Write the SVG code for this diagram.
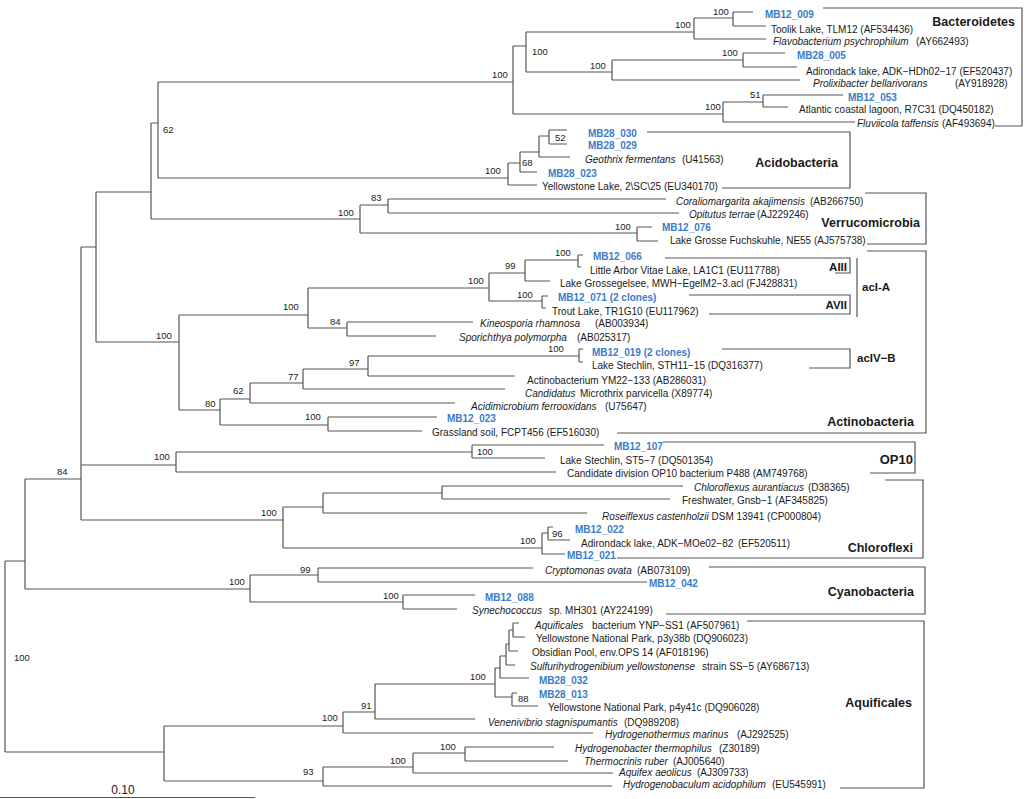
<svg xmlns="http://www.w3.org/2000/svg" width="1028" height="799" viewBox="0 0 1028 799">
<style>
.ln{fill:none;stroke:#555;stroke-width:1.2}
.bk{fill:none;stroke:#555;stroke-width:1.2}
text{font-family:"Liberation Sans",Arial,Helvetica,sans-serif;font-size:10px;fill:#1a1a1a}
.m{font-weight:bold;fill:#3b7cc9}
.i{font-style:italic}
.bs{font-size:9.5px}
.g{font-size:12.5px;font-weight:bold}
.s{font-size:11.5px;font-weight:bold}
.sc{font-size:12px}
</style>
<rect width="1028" height="799" fill="#fff"/>
<g id="connectors">
<path class="ln" d="M5 561V752M5 561H25M5 752H164
M25 479V589M25 479H81M25 589H250
M81 247V520M81 247H96M81 465H176M81 520H283
M96 192V342M96 192H151M96 342H179
M151 123V219M151 123H158M151 219H360
M158 82V178M158 82H513M158 178H508
M513 46V114M513 46H526M513 114H723
M526 32V72M526 32H694M526 72H612
M694 18V39M694 18H733M694 39H766
M733 12V26M733 12H753M733 26H766
M612 60V80M612 60H743M612 80H800
M743 53V67M743 53H785M743 67H797
M723 102V122M723 102H763M723 122H855
M763 95V107M763 95H843M763 107H788
M508 163V185M508 163H520M508 185H537
M520 152V172M520 152H539M520 172H537
M539 136V157M539 136H549M539 157H570
M549 130V144M549 130H567M549 144H567
M360 205V233M360 205H388M360 233H637
M388 199V213M388 199H666M388 213H679
M637 227V241M637 227H652M637 241H658
M179 315V410M179 315H308M179 410H220
M308 288V328M308 288H489M308 328H347
M489 273V301M489 273H525M489 301H542
M525 260V281M525 260H578M525 281H550
M578 255V267M578 255H583M578 267H581
M542 296V308M542 296H548M542 308H546
M347 322V336M347 322H473M347 336H436
M220 399V425M220 399H250M220 425H328
M250 383V403M250 383H303M250 403H455
M303 369V389M303 369H368M303 389H505
M368 356V376M368 356H579M368 376H515
M579 349V362M579 349H583M579 362H583
M328 417V431M328 417H437M328 431H422
M176 452V472M176 452H472M176 472H556
M472 445V458M472 445H604M472 458H545
M283 507V548M283 507H323M283 548H542
M323 493V513M323 493H442M323 513H587
M442 486V499M442 486H683M442 499H670
M542 533V554M542 533H548M542 554H565
M548 527V540M548 527H553M548 540H570
M250 575V602M250 575H318M250 602H403
M318 568V582M318 568H533M318 582H647
M403 595V609M403 595H475M403 609H457
M164 726V781M164 726H343M164 781H323
M343 712V733M343 712H375M343 733H593
M375 684V719M375 684H495M375 719H475
M495 668V697M495 668H500M495 697H512
M500 656V678M500 656H506M500 678H529
M506 644V665M506 644H509M506 665H515
M509 630V651M509 630H513M509 651H518
M513 623V637M513 623H519M513 637H525
M512 693V706M512 693H517M512 706H538
M323 767V786M323 767H413M323 786H612
M413 753V773M413 753H465M413 773H613
M465 747V761M465 747H554M465 761H568"/>
</g>
<g id="support-values">
<text class="bs" x="163" y="133.4">62</text>
<text class="bs" x="492" y="78.4">100</text>
<text class="bs" x="532" y="55.4">100</text>
<text class="bs" x="675" y="28.4">100</text>
<text class="bs" x="713" y="15.4">100</text>
<text class="bs" x="590" y="69.4">100</text>
<text class="bs" x="722" y="56.4">100</text>
<text class="bs" x="750" y="98.4">51</text>
<text class="bs" x="705" y="110.4">100</text>
<text class="bs" x="485" y="174.4">100</text>
<text class="bs" x="522" y="166.4">68</text>
<text class="bs" x="555" y="141.4">52</text>
<text class="bs" x="371" y="201.4">83</text>
<text class="bs" x="338" y="216.4">100</text>
<text class="bs" x="615" y="230.4">100</text>
<text class="bs" x="156" y="339.4">100</text>
<text class="bs" x="283" y="310.4">100</text>
<text class="bs" x="330" y="325.4">84</text>
<text class="bs" x="468" y="284.4">100</text>
<text class="bs" x="505" y="269.4">99</text>
<text class="bs" x="555" y="256.4">100</text>
<text class="bs" x="517" y="298.4">100</text>
<text class="bs" x="205" y="407.4">80</text>
<text class="bs" x="233" y="394.4">62</text>
<text class="bs" x="288" y="380.4">77</text>
<text class="bs" x="349" y="366.4">97</text>
<text class="bs" x="548" y="352.4">100</text>
<text class="bs" x="305" y="420.4">100</text>
<text class="bs" x="57" y="475.4">84</text>
<text class="bs" x="154" y="460.4">100</text>
<text class="bs" x="477" y="455.4">100</text>
<text class="bs" x="261" y="516.4">100</text>
<text class="bs" x="520" y="544.4">100</text>
<text class="bs" x="552" y="537.4">96</text>
<text class="bs" x="229" y="585.4">100</text>
<text class="bs" x="300" y="573.4">99</text>
<text class="bs" x="383" y="599.4">100</text>
<text class="bs" x="14" y="661.4">100</text>
<text class="bs" x="322" y="721.4">100</text>
<text class="bs" x="361" y="709.4">91</text>
<text class="bs" x="470" y="680.4">100</text>
<text class="bs" x="518" y="702.4">88</text>
<text class="bs" x="303" y="775.4">93</text>
<text class="bs" x="390" y="764.4">100</text>
<text class="bs" x="440" y="750.4">100</text>
</g>
<g id="clade-bacteroidetes">
<path class="bk" d="M823 8H1022V126H995"/>
<text class="g" x="1015" y="25.5" text-anchor="end">Bacteroidetes</text>
<g id="leaf-MB12_009"><text class="m" x="765" y="17.5">MB12_009</text></g>
<g id="leaf-TLM12"><text x="771" y="32.5">Toolik Lake, TLM12 (AF534436)</text></g>
<g id="leaf-flavobacterium"><text x="773" y="44.5"><tspan class="i">Flavobacterium psychrophilum</tspan><tspan x="916">(AY662493)</tspan></text></g>
<g id="leaf-MB28_005"><text class="m" x="797" y="58.5">MB28_005</text></g>
<g id="leaf-ADK-HDh02"><text x="806" y="74.5">Adirondack lake, ADK−HDh02−17 (EF520437)</text></g>
<g id="leaf-prolixibacter"><text x="813" y="86.5"><tspan class="i">Prolixibacter bellarivorans</tspan><tspan x="955">(AY918928)</tspan></text></g>
<g id="leaf-MB12_053"><text class="m" x="848" y="100.5">MB12_053</text></g>
<g id="leaf-R7C31"><text x="799" y="112.5">Atlantic coastal lagoon, R7C31 (DQ450182)</text></g>
<g id="leaf-fluviicola"><text x="857" y="126.5"><tspan class="i">Fluviicola taffensis</tspan><tspan x="942">(AF493694)</tspan></text></g>
</g>
<g id="clade-acidobacteria">
<path class="bk" d="M647 132H850V188H722"/>
<text class="g" x="838" y="166.5" text-anchor="end">Acidobacteria</text>
<g id="leaf-MB28_030"><text class="m" x="588" y="136.5">MB28_030</text></g>
<g id="leaf-MB28_029"><text class="m" x="588" y="148.5">MB28_029</text></g>
<g id="leaf-geothrix"><text x="585" y="162.5"><tspan class="i">Geothrix fermentans</tspan><tspan x="682">(U41563)</tspan></text></g>
<g id="leaf-MB28_023"><text class="m" x="548" y="176.5">MB28_023</text></g>
<g id="leaf-yellowstone-lake"><text x="542" y="189.5">Yellowstone Lake, 2\SC\25 (EU340170)</text></g>
</g>
<g id="clade-verrucomicrobia">
<path class="bk" d="M865 193H926V244H867"/>
<text class="g" x="920" y="226.5" text-anchor="end">Verrucomicrobia</text>
<g id="leaf-coraliomargarita"><text x="676" y="204.5"><tspan class="i">Coraliomargarita akajimensis</tspan><tspan x="810">(AB266750)</tspan></text></g>
<g id="leaf-opitutus"><text x="689" y="217.5"><tspan class="i">Opitutus terrae</tspan><tspan x="757">(AJ229246)</tspan></text></g>
<g id="leaf-MB12_076"><text class="m" x="662" y="230.5">MB12_076</text></g>
<g id="leaf-NE55"><text x="670" y="243.5">Lake Grosse Fuchskuhle, NE55 (AJ575738)</text></g>
</g>
<g id="clade-actinobacteria">
<path class="bk" d="M867 251H926V433H617"/>
<path class="bk" d="M665 258H850V273H835"/>
<path class="bk" d="M689 295H850V314H709"/>
<path class="bk" d="M857 258V317"/>
<path class="bk" d="M722 349H850V368H809"/>
<text class="g" x="914" y="425.5" text-anchor="end">Actinobacteria</text>
<text class="s" x="847" y="271" text-anchor="end">AIII</text>
<text class="s" x="847" y="309" text-anchor="end">AVII</text>
<text class="s" x="862" y="291">acI-A</text>
<text class="s" x="857" y="362">acIV−B</text>
<g id="leaf-MB12_066"><text class="m" x="593" y="259.5">MB12_066</text></g>
<g id="leaf-LA1C1"><text x="590" y="273.5">Little Arbor Vitae Lake, LA1C1 (EU117788)</text></g>
<g id="leaf-grossegelsee"><text x="560" y="286.5">Lake Grossegelsee, MWH−EgelM2−3.acl (FJ428831)</text></g>
<g id="leaf-MB12_071"><text class="m" x="558" y="300.5">MB12_071 (2 clones)</text></g>
<g id="leaf-TR1G10"><text x="552" y="314.5">Trout Lake, TR1G10 (EU117962)</text></g>
<g id="leaf-kineosporia"><text x="480" y="326.5"><tspan class="i">Kineosporia rhamnosa</tspan><tspan x="595">(AB003934)</tspan></text></g>
<g id="leaf-sporichthya"><text x="459" y="340.5"><tspan class="i">Sporichthya polymorpha</tspan><tspan x="577">(AB025317)</tspan></text></g>
<g id="leaf-MB12_019"><text class="m" x="592" y="355.5">MB12_019 (2 clones)</text></g>
<g id="leaf-STH11-15"><text x="592" y="368.5">Lake Stechlin, STH11−15 (DQ316377)</text></g>
<g id="leaf-YM22-133"><text x="527" y="383.5">Actinobacterium YM22−133 (AB286031)</text></g>
<g id="leaf-microthrix"><text x="525" y="396.5"><tspan class="i">Candidatus</tspan><tspan x="580">Microthrix parvicella (X89774)</tspan></text></g>
<g id="leaf-acidimicrobium"><text x="471" y="409.5"><tspan class="i">Acidimicrobium ferrooxidans</tspan><tspan x="605">(U75647)</tspan></text></g>
<g id="leaf-MB12_023"><text class="m" x="447" y="421.5">MB12_023</text></g>
<g id="leaf-FCPT456"><text x="432" y="435.5">Grassland soil, FCPT456 (EF516030)</text></g>
</g>
<g id="clade-op10">
<path class="bk" d="M663 442H915V473H870"/>
<text class="g" x="913" y="463.5" text-anchor="end" style="font-size:13px">OP10</text>
<g id="leaf-MB12_107"><text class="m" x="614" y="449.5">MB12_107</text></g>
<g id="leaf-ST5-7"><text x="560" y="463.5">Lake Stechlin, ST5−7 (DQ501354)</text></g>
<g id="leaf-P488"><text x="567" y="476.5">Candidate division OP10 bacterium P488 (AM749768)</text></g>
</g>
<g id="clade-chloroflexi">
<path class="bk" d="M885 480H923V558H617"/>
<text class="g" x="913" y="551.5" text-anchor="end">Chloroflexi</text>
<g id="leaf-chloroflexus"><text x="694" y="490.5"><tspan class="i">Chloroflexus aurantiacus</tspan><tspan x="808">(D38365)</tspan></text></g>
<g id="leaf-gnsb-1"><text x="682" y="503.5">Freshwater, Gnsb−1 (AF345825)</text></g>
<g id="leaf-roseiflexus"><text x="602" y="519.5"><tspan class="i">Roseiflexus castenholzii</tspan> DSM 13941 (CP000804)</text></g>
<g id="leaf-MB12_022"><text class="m" x="575" y="532.5">MB12_022</text></g>
<g id="leaf-ADK-MOe02"><text x="581" y="546.5">Adirondack lake, ADK−MOe02−82<tspan x="738">(EF520511)</tspan></text></g>
<g id="leaf-MB12_021"><text class="m" x="567" y="558.5">MB12_021</text></g>
</g>
<g id="clade-cyanobacteria">
<path class="bk" d="M709 567H925V614H666"/>
<text class="g" x="914" y="595.5" text-anchor="end">Cyanobacteria</text>
<g id="leaf-cryptomonas"><text x="545" y="573.5"><tspan class="i">Cryptomonas ovata</tspan><tspan x="637">(AB073109)</tspan></text></g>
<g id="leaf-MB12_042"><text class="m" x="649" y="586.5">MB12_042</text></g>
<g id="leaf-MB12_088"><text class="m" x="485" y="600.5">MB12_088</text></g>
<g id="leaf-synechococcus"><text x="472" y="613.5"><tspan class="i">Synechococcus</tspan><tspan x="549">sp. MH301 (AY224199)</tspan></text></g>
</g>
<g id="clade-aquificales">
<path class="bk" d="M747 621H924V788H840"/>
<text class="g" x="912" y="706.5" text-anchor="end">Aquificales</text>
<g id="leaf-YNP-SS1"><text x="535" y="628.5"><tspan class="i">Aquificales</tspan><tspan x="592">bacterium YNP−SS1 (AF507961)</tspan></text></g>
<g id="leaf-p3y38b"><text x="536" y="641.5">Yellowstone National Park, p3y38b (DQ906023)</text></g>
<g id="leaf-OPS14"><text x="532" y="655.5">Obsidian Pool, env.OPS 14 (AF018196)</text></g>
<g id="leaf-sulfurihydrogenibium"><text x="530" y="669.5"><tspan class="i">Sulfurihydrogenibium yellowstonense</tspan><tspan x="702">strain SS−5 (AY686713)</tspan></text></g>
<g id="leaf-MB28_032"><text class="m" x="539" y="683.5">MB28_032</text></g>
<g id="leaf-MB28_013"><text class="m" x="539" y="697.5">MB28_013</text></g>
<g id="leaf-p4y41c"><text x="548" y="710.5">Yellowstone National Park, p4y41c (DQ906028)</text></g>
<g id="leaf-venenivibrio"><text x="488" y="725.5"><tspan class="i">Venenivibrio stagnispumantis</tspan><tspan x="624">(DQ989208)</tspan></text></g>
<g id="leaf-hydrogenothermus"><text x="605" y="737.5"><tspan class="i">Hydrogenothermus marinus</tspan><tspan x="737">(AJ292525)</tspan></text></g>
<g id="leaf-hydrogenobacter"><text x="575" y="751.5"><tspan class="i">Hydrogenobacter thermophilus</tspan><tspan x="719">(Z30189)</tspan></text></g>
<g id="leaf-thermocrinis"><text x="584" y="764.5"><tspan class="i">Thermocrinis ruber</tspan><tspan x="673">(AJ005640)</tspan></text></g>
<g id="leaf-aquifex"><text x="619" y="775.5"><tspan class="i">Aquifex aeolicus</tspan><tspan x="697">(AJ309733)</tspan></text></g>
<g id="leaf-hydrogenobaculum"><text x="623" y="787.5"><tspan class="i">Hydrogenobaculum acidophilum</tspan><tspan x="772">(EU545991)</tspan></text></g>
</g>
<g id="scale-bar">
<path class="ln" d="M0 797.5H255"/>
<text class="sc" x="123" y="794" text-anchor="middle">0.10</text>
</g>
</svg>
